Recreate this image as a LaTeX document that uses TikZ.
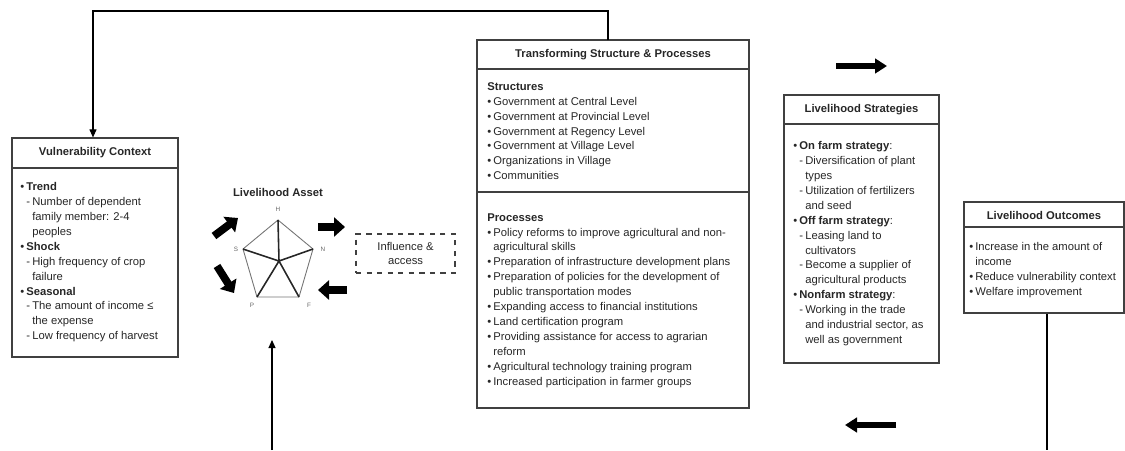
\documentclass[tikz,border=0pt]{standalone}
\usepackage{fontspec}
\setmainfont{Liberation Sans}
\usetikzlibrary{arrows.meta}

\newcommand{\bu}{\makebox[3.4pt][l]{\textbullet}}
\newcommand{\da}{\makebox[3.4pt][l]{-}}
\newcommand{\hg}{\hspace*{3.4pt}}

\begin{document}
\begin{tikzpicture}[x=0.02cm,y=-0.02cm,
  box/.style={draw=black!75,line width=0.7pt,inner sep=0pt},
  ttl/.style={font=\fontsize{6.4}{8.5}\selectfont\bfseries,text=black!85},
  body/.style={anchor=north west,inner sep=0pt,align=left,font=\fontsize{6.4}{8.5}\selectfont,text=black!85},
  fat/.style={line width=3pt,-{Triangle[length=2.4mm,width=2.9mm]}},
  fatter/.style={line width=4.4pt,-{Triangle[length=2.2mm,width=3.8mm]}},
  lbl/.style={font=\fontsize{3.6}{4}\selectfont,text=black!60,inner sep=0pt}]
  \useasboundingbox (0,0) rectangle (1125,450);

  % vulnerability context
  \node[box,minimum width=3.32cm,minimum height=4.38cm] (vul) at (95,247.5) {};
  \draw[draw=black!75,line width=0.7pt] (vul.west |- 0,168) -- (vul.east |- 0,168);
  \node[ttl] (vulT) at (95,153) {Vulnerability Context};
  \node[body] (vulB) at (20,182) {\bu\textbf{Trend}\\
    \hg\da Number of dependent\\
    \hg\hg family member: 2-4\\
    \hg\hg peoples\\
    \bu\textbf{Shock}\\
    \hg\da High frequency of crop\\
    \hg\hg failure\\
    \bu\textbf{Seasonal}\\
    \hg\da The amount of income ≤\\
    \hg\hg the expense\\
    \hg\da Low frequency of harvest};

  % livelihood asset pentagon
  \node[ttl] (assT) at (278,192) {Livelihood Asset};
  \coordinate (H) at (278,220);
  \coordinate (N) at (313,249);
  \coordinate (F) at (299,297);
  \coordinate (P) at (257,297);
  \coordinate (S) at (243,249);
  \coordinate (C) at (279,261);
  \draw[black!55,line width=0.5pt] (H) -- (N) -- (F) -- (P) -- (S) -- cycle;
  \draw[black!85,line width=0.9pt] (C) -- (H) (C) -- (N) (C) -- (F) (C) -- (P) (C) -- (S);
  \node[lbl] (hL) at (278,209) {H};
  \node[lbl] (nL) at (323,249) {N};
  \node[lbl] (fL) at (309,305) {F};
  \node[lbl] (pL) at (252,305) {P};
  \node[lbl] (sL) at (236,249) {S};

  % block arrows round the pentagon
  \coordinate (a1s) at (214,236); \coordinate (a1e) at (238,218);
  \coordinate (a2s) at (217,266); \coordinate (a2e) at (234,293);
  \coordinate (a3s) at (318,227); \coordinate (a3e) at (345,227);
  \coordinate (a4s) at (347,290); \coordinate (a4e) at (318,290);
  \draw[fatter] (a1s) -- (a1e);
  \draw[fatter] (a2s) -- (a2e);
  \draw[fatter] (a3s) -- (a3e);
  \draw[fatter] (a4s) -- (a4e);

  % influence and access
  \node[draw=black!75,dashed,line width=0.6pt,minimum width=1.98cm,minimum height=0.78cm,align=center,
    font=\fontsize{6.4}{8.5}\selectfont,text=black!85] (infl) at (405.5,253.5) {Influence \&\\access};

  % transforming structure and processes
  \node[box,minimum width=5.44cm,minimum height=7.36cm] (trans) at (613,224) {};
  \draw[draw=black!75,line width=0.7pt] (trans.west |- 0,69) -- (trans.east |- 0,69);
  \draw[draw=black!75,line width=0.7pt] (trans.west |- 0,192) -- (trans.east |- 0,192);
  \node[ttl] (transT) at (613,55) {Transforming Structure \& Processes};
  \node[body] (strB) at (487,82) {\textbf{Structures}\\
    \bu Government at Central Level\\
    \bu Government at Provincial Level\\
    \bu Government at Regency Level\\
    \bu Government at Village Level\\
    \bu Organizations in Village\\
    \bu Communities};
  \node[body] (proB) at (487,213) {\textbf{Processes}\\
    \bu Policy reforms to improve agricultural and non-\\
    \hg agricultural skills\\
    \bu Preparation of infrastructure development plans\\
    \bu Preparation of policies for the development of\\
    \hg public transportation modes\\
    \bu Expanding access to financial institutions\\
    \bu Land certification program\\
    \bu Providing assistance for access to agrarian\\
    \hg reform\\
    \bu Agricultural technology training program\\
    \bu Increased participation in farmer groups};

  % livelihood strategies
  \node[box,minimum width=3.10cm,minimum height=5.36cm] (strat) at (861.5,229) {};
  \draw[draw=black!75,line width=0.7pt] (strat.west |- 0,124) -- (strat.east |- 0,124);
  \node[ttl] (stratT) at (861.5,110) {Livelihood Strategies};
  \node[body] (stratB) at (793,141) {\bu\textbf{On farm strategy}:\\
    \hg\da Diversification of plant\\
    \hg\hg types\\
    \hg\da Utilization of fertilizers\\
    \hg\hg and seed\\
    \bu\textbf{Off farm strategy}:\\
    \hg\da Leasing land to\\
    \hg\hg cultivators\\
    \hg\da Become a supplier of\\
    \hg\hg agricultural products\\
    \bu\textbf{Nonfarm strategy}:\\
    \hg\da Working in the trade\\
    \hg\hg and industrial sector, as\\
    \hg\hg well as government};

  % livelihood outcomes
  \node[box,minimum width=3.2cm,minimum height=2.22cm] (out) at (1044,257.5) {};
  \draw[draw=black!75,line width=0.7pt] (out.west |- 0,227) -- (out.east |- 0,227);
  \node[ttl] (outT) at (1044,215) {Livelihood Outcomes};
  \node[body] (outB) at (969,242) {\bu Increase in the amount of\\
    \hg income\\
    \bu Reduce vulnerability context\\
    \bu Welfare improvement};

  % arrows between the parts
  \coordinate (fbR) at (608,40);
  \coordinate (fbL) at (93,11);
  \draw[-{Triangle[length=1.6mm,width=1.4mm]},line width=0.6pt] (fbR) |- (fbL) -- (vul.north -| fbL);
  \coordinate (b1s) at (272,450); \coordinate (b1e) at (272,340);
  \draw[-{Triangle[length=1.6mm,width=1.4mm]},line width=0.6pt] (b1s) -- (b1e);
  \coordinate (b2e) at (1047,450);
  \draw[line width=0.6pt] (out.south -| b2e) -- (b2e);
  \coordinate (t1s) at (836,66); \coordinate (t1e) at (887,66);
  \coordinate (t2s) at (896,425); \coordinate (t2e) at (845,425);
  \draw[fat] (t1s) -- (t1e);
  \draw[fat] (t2s) -- (t2e);
\end{tikzpicture}
\end{document}
